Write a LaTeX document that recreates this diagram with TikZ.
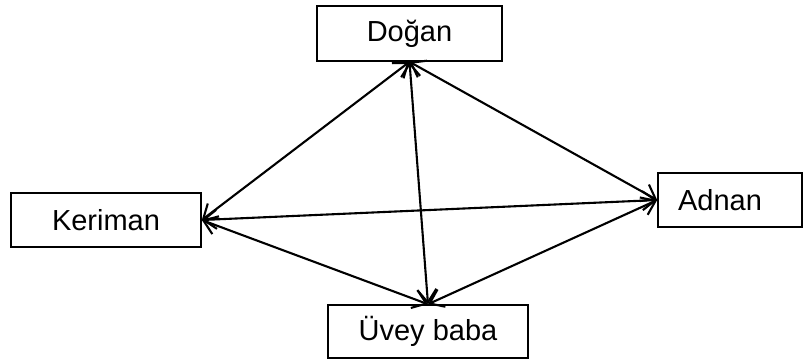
\documentclass[tikz,border=0pt]{standalone}
\usepackage{fontspec}
\setmainfont{Liberation Sans}
\usetikzlibrary{arrows.meta}
\tikzset{
 kutu/.style={draw=black,line width=1.6pt,fill=white,inner sep=0pt,font=\fontsize{29}{34}\selectfont},
 iliski/.style={{Straight Barb[length=13pt,width=19pt]}-{Straight Barb[length=13pt,width=19pt]},line width=2.1pt}
}
\begin{document}
\begin{tikzpicture}[x=1pt,y=-1pt]
 \useasboundingbox (0,0) rectangle (805,360);
 \node (dogan) at (409.5,33.5) [kutu,minimum width=185pt,minimum height=55pt] {Doğan};
 \node (keriman) at (106,220) [kutu,minimum width=190pt,minimum height=54pt] {Keriman};
 \node (adnan) at (730,200) [kutu,minimum width=144pt,minimum height=54pt] {Adnan\kern20pt};
 \node (uvey) at (428,331.5) [kutu,minimum width=200pt,minimum height=53pt] {Üvey baba};
 \draw[iliski] (dogan.south) -- (keriman.east);
 \draw[iliski] (dogan.south) -- (adnan.west);
 \draw[iliski] (dogan.south) -- (uvey.north);
 \draw[iliski] (keriman.east) -- (adnan.west);
 \draw[iliski] (keriman.east) -- (uvey.north);
 \draw[iliski] (adnan.west) -- (uvey.north);
\end{tikzpicture}
\end{document}
